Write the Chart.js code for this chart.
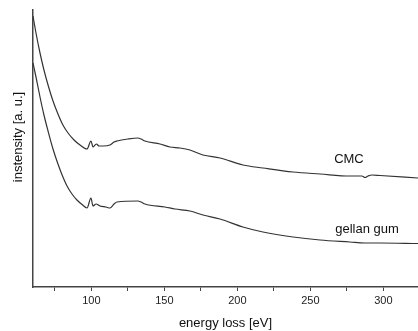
<!DOCTYPE html>
<html>
<head>
<meta charset="utf-8">
<script src="https://cdn.jsdelivr.net/npm/chart.js@4/dist/chart.umd.min.js"></script>
<style>
  html, body { margin: 0; padding: 0; background: #fff; }
</style>
</head>
<body>
<canvas id="eelsChart" width="418" height="331"></canvas>
<script>
// spectra (energy in eV, intensity in arbitrary units)
var cmcEnergy = [60, 62.05, 64.8, 67.5, 70.3, 73.7, 77.1, 80.5, 84, 88.1, 92.2, 97,
  99.7, 101.1, 102.5, 103.5, 105.2, 108, 112.7, 115.5, 117.5, 125, 131.9, 134, 136.7,
  147, 153.8, 160.7, 167.5, 176.4, 188.1, 203.8, 217.5, 238.1, 256.6, 277.1, 285.3,
  287.4, 289.5, 292.2, 297.7, 323.7];
var cmcIntensity = [271, 254, 234, 217, 202, 186, 173, 162, 154, 147, 142, 138,
  146, 140, 142, 143, 141, 141, 142, 145, 146, 148, 149, 148, 146,
  143, 140, 139, 137, 132, 129, 122, 119, 115, 113, 111, 111,
  109.5, 111, 112, 111.5, 109];

var gellanEnergy = [60, 62.05, 64.8, 67.5, 70.3, 73.7, 77.1, 80.5, 83.3, 86.7, 90.1, 93.6, 97,
  99.7, 101.1, 103.2, 105.9, 110, 112.7, 115.5, 117.5, 131.9, 134, 136.7,
  150.4, 157.3, 167.5, 176.4, 188.1, 203.8, 217.5, 238.1, 256.6, 277.1, 287.4, 297.7, 323.7];
var gellanIntensity = [224, 210, 190, 172, 156, 138, 123, 110, 101, 93, 87, 82.5, 79,
  89, 81, 83, 81, 80, 79, 83, 85, 86, 85, 83,
  80, 78, 76, 72, 68, 60, 55, 50, 47, 45, 44, 44, 43.5];

var seriesNames = ['CMC', 'gellan gum'];
var xTickValues = [75, 100, 125, 150, 175, 200, 225, 250, 275, 300];
var xTitle = 'energy loss [eV]';
var yTitle = 'instensity [a. u.]';

var fontFamily = "'Liberation Sans', Arial, sans-serif";
var ink = '#333';

function toPoints(xs, ys) {
  return xs.map(function (x, i) { return { x: x, y: ys[i] }; });
}

// curve names and the rotated y title, drawn on the canvas
var labelPlugin = {
  id: 'curveLabels',
  afterDraw: function (chart) {
    var ctx = chart.ctx;
    var xs = chart.scales.x, ys = chart.scales.y;
    ctx.save();
    ctx.fillStyle = '#111';
    ctx.font = '13px ' + fontFamily;
    ctx.textAlign = 'center';
    ctx.textBaseline = 'middle';
    ctx.fillText(seriesNames[0], xs.getPixelForValue(276.4), ys.getPixelForValue(128));
    ctx.fillText(seriesNames[1], xs.getPixelForValue(288.8), ys.getPixelForValue(58));
    ctx.translate(18, 137);
    ctx.rotate(-Math.PI / 2);
    ctx.fillText(yTitle, 0, 0);
    ctx.restore();
  }
};

var ctx = document.getElementById('eelsChart').getContext('2d');
var eelsChart = new Chart(ctx, {
  type: 'line',
  data: {
    datasets: [
      {
        label: seriesNames[0],
        data: toPoints(cmcEnergy, cmcIntensity),
        borderColor: ink,
        borderWidth: 1.2,
        pointRadius: 0,
        cubicInterpolationMode: 'monotone'
      },
      {
        label: seriesNames[1],
        data: toPoints(gellanEnergy, gellanIntensity),
        borderColor: ink,
        borderWidth: 1.2,
        pointRadius: 0,
        cubicInterpolationMode: 'monotone'
      }
    ]
  },
  options: {
    responsive: false,
    animation: false,
    layout: { padding: { top: 10, right: 0, left: 0, bottom: 0 } },
    plugins: {
      legend: { display: false },
      tooltip: { enabled: false }
    },
    scales: {
      x: {
        type: 'linear',
        min: 60,
        max: 323.7,
        afterBuildTicks: function (scale) {
          scale.ticks = xTickValues.map(function (v) { return { value: v }; });
        },
        afterFit: function (scale) { scale.height = 44; },
        ticks: {
          autoSkip: false,
          maxRotation: 0,
          padding: 3,
          color: '#222',
          font: { family: fontFamily, size: 11 },
          callback: function (v) { return v % 50 === 0 ? v : ''; }
        },
        grid: {
          drawOnChartArea: false,
          tickLength: 4,
          tickColor: '#444',
          tickWidth: 1
        },
        border: { color: '#444', width: 1.5 },
        title: {
          display: true,
          text: xTitle,
          color: '#111',
          font: { family: fontFamily, size: 13 },
          padding: { top: 2, bottom: 0 }
        }
      },
      y: {
        min: 0,
        max: 277,
        afterFit: function (scale) { scale.width = 33; },
        ticks: { display: false },
        grid: { drawOnChartArea: false, drawTicks: false },
        border: { color: '#444', width: 1.5 }
      }
    }
  },
  plugins: [labelPlugin]
});
</script>
</body>
</html>
